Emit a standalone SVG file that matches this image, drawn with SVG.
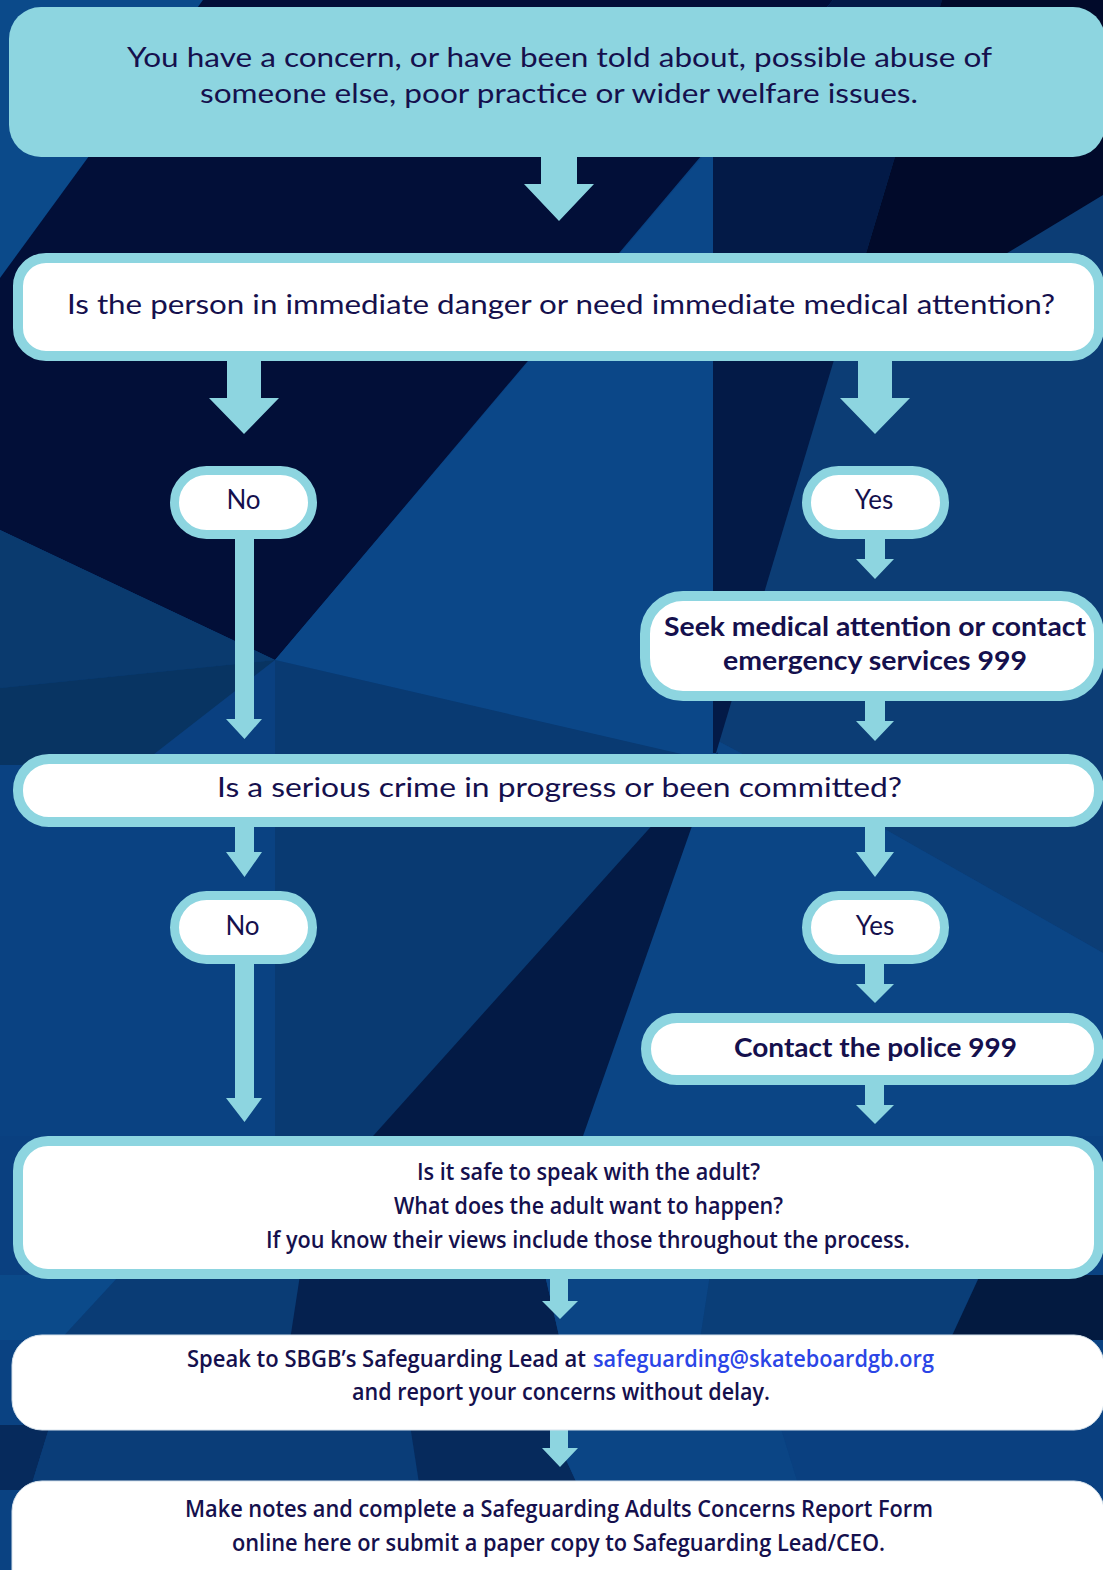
<svg xmlns="http://www.w3.org/2000/svg" width="1103" height="1570" viewBox="0 0 1103 1570">
<style>
.t{font-family:Lato,'Noto Sans','Liberation Sans',sans-serif;font-size:26px;fill:#15104d}
.b{font-weight:700}
.c{font-family:'Open Sans','Liberation Sans',sans-serif;font-weight:600;font-size:24px;fill:#15104d}
.link{fill:#2b45e6}
.box{fill:#ffffff;stroke:#8dd5e0;stroke-width:10}
.pill{fill:#ffffff;stroke:#8dd5e0;stroke-width:9}
.plain{fill:#ffffff;stroke:#d6e2ec;stroke-width:1}
.arr{fill:#8dd5e0}
</style>
<g id="background">
<rect x="0" y="0" width="1103" height="1570" fill="#0a4282"/>
<polygon points="0,0 203,0 0,278" fill="#0b4a8a"/>
<polygon points="203,0 833,0 275,660 0,530 0,278" fill="#020f38"/>
<polygon points="713,144 713,762 275,660" fill="#0b4788"/>
<polygon points="942,0 1103,0 1103,953 881,827 716,740" fill="#0c3d75"/>
<polygon points="716,740 881,827 1103,953 1103,1136 583,1136" fill="#0b4585"/>
<polygon points="833,0 942,0 716,753 713,753 713,144" fill="#031a47"/>
<polygon points="942,0 1103,0 1103,195 880,330 846,320" fill="#010a2a"/>
<polygon points="0,530 275,660 0,688" fill="#0a3a6e"/>
<polygon points="0,688 275,660 275,765 0,765" fill="#083462"/>
<polygon points="275,660 275,765 140,765" fill="#0a4080"/>
<polygon points="275,660 716,762 373,1136 275,1136" fill="#093a72"/>
<polygon points="718,752 583,1136 373,1136" fill="#031a45"/>
<polygon points="0,1136 275,1136 275,1275 0,1275" fill="#0a4080"/>
<polygon points="0,1275 120,1275 60,1340 0,1340" fill="#0b4a8a"/>
<polygon points="120,1275 300,1275 290,1340 60,1340" fill="#0a3c75"/>
<polygon points="300,1275 545,1275 560,1340 290,1340" fill="#05214f"/>
<polygon points="545,1275 710,1275 700,1340 560,1340" fill="#0b4585"/>
<polygon points="710,1275 980,1275 950,1340 700,1340" fill="#0a3e78"/>
<polygon points="980,1275 1103,1275 1103,1340 950,1340" fill="#031a40"/>
<polygon points="0,1425 50,1425 30,1490 0,1490" fill="#062a5c"/>
<polygon points="50,1425 410,1425 420,1490 30,1490" fill="#0a3d78"/>
<polygon points="410,1425 550,1425 580,1490 420,1490" fill="#062a5c"/>
<polygon points="550,1425 780,1425 800,1490 580,1490" fill="#0b4585"/>
<polygon points="780,1425 1103,1425 1103,1490 800,1490" fill="#0a4080"/>
</g>
<g id="connectors">
<polygon class="arr" points="541,150 577,150 577,184 594,184 559,221 524,184 541,184"/>
<polygon class="arr" points="227,359 261,359 261,398 279,398 244,434 209,398 227,398"/>
<polygon class="arr" points="858,359 892,359 892,398 910,398 875,434 840,398 858,398"/>
<polygon class="arr" points="235,537 254,537 254,719 262,719 244.5,739 226,719 235,719"/>
<polygon class="arr" points="865,537 885,537 885,559 894,559 875,579 856,559 865,559"/>
<polygon class="arr" points="865,699 885,699 885,721 894,721 875,741 856,721 865,721"/>
<polygon class="arr" points="235,825 254,825 254,852 262,852 244.5,877 226,852 235,852"/>
<polygon class="arr" points="865,825 885,825 885,852 894,852 875,877 856,852 865,852"/>
<polygon class="arr" points="235,961 254,961 254,1098 262,1098 244.5,1122 226,1098 235,1098"/>
<polygon class="arr" points="865,961 884,961 884,984 894,984 875,1003 856,984 865,984"/>
<polygon class="arr" points="865,1083 884,1083 884,1105 894,1105 875,1124 856,1105 865,1105"/>
<polygon class="arr" points="550,1277 568,1277 568,1301 578,1301 560,1319 542,1301 550,1301"/>
<polygon class="arr" points="550,1428 568,1428 568,1448 578,1448 560,1467 542,1448 550,1448"/>
</g>
<g id="concern">
<rect x="9" y="7" width="1096" height="150" rx="32" fill="#8dd5e0"/>
<text class="t" x="127" y="67" textLength="865" lengthAdjust="spacingAndGlyphs">You have a concern, or have been told about, possible abuse of</text>
<text class="t" x="200" y="103" textLength="718" lengthAdjust="spacingAndGlyphs">someone else, poor practice or wider welfare issues.</text>
</g>
<g id="danger">
<rect class="box" x="18" y="258" width="1081" height="98" rx="28"/>
<text class="t" x="67" y="314" textLength="988" lengthAdjust="spacingAndGlyphs">Is the person in immediate danger or need immediate medical attention?</text>
</g>
<g id="no1">
<rect class="pill" x="174.5" y="470.5" width="138" height="64" rx="32"/>
<text class="t" x="243.5" y="509" text-anchor="middle">No</text>
</g>
<g id="yes1">
<rect class="pill" x="806.5" y="470.5" width="138" height="64" rx="32"/>
<text class="t" x="874" y="509" text-anchor="middle">Yes</text>
</g>
<g id="medical">
<rect class="box" x="645" y="596" width="454" height="100" rx="38"/>
<text class="t b" x="664" y="636" textLength="422" lengthAdjust="spacingAndGlyphs">Seek medical attention or contact</text>
<text class="t b" x="723" y="670" textLength="304" lengthAdjust="spacingAndGlyphs">emergency services 999</text>
</g>
<g id="crime">
<rect class="box" x="18" y="759" width="1081" height="63" rx="31"/>
<text class="t" x="217" y="797" textLength="685" lengthAdjust="spacingAndGlyphs">Is a serious crime in progress or been committed?</text>
</g>
<g id="no2">
<rect class="pill" x="174.5" y="895.5" width="138" height="64" rx="32"/>
<text class="t" x="242.5" y="935" text-anchor="middle">No</text>
</g>
<g id="yes2">
<rect class="pill" x="806.5" y="895.5" width="138" height="64" rx="32"/>
<text class="t" x="875" y="935" text-anchor="middle">Yes</text>
</g>
<g id="police">
<rect class="box" x="646" y="1018" width="453" height="62" rx="31"/>
<text class="t b" x="734" y="1057" textLength="283" lengthAdjust="spacingAndGlyphs">Contact the police 999</text>
</g>
<g id="safe">
<rect class="box" x="18" y="1141" width="1081" height="133" rx="30"/>
<text class="c" x="417" y="1180" textLength="343" lengthAdjust="spacingAndGlyphs">Is it safe to speak with the adult?</text>
<text class="c" x="394" y="1214" textLength="389" lengthAdjust="spacingAndGlyphs">What does the adult want to happen?</text>
<text class="c" x="266" y="1248" textLength="644" lengthAdjust="spacingAndGlyphs">If you know their views include those throughout the process.</text>
</g>
<g id="lead">
<rect class="plain" x="12" y="1335" width="1092" height="95" rx="30"/>
<text class="c" y="1367"><tspan x="187" textLength="399" lengthAdjust="spacingAndGlyphs">Speak to SBGB’s Safeguarding Lead at</tspan><tspan class="link" x="593" textLength="341" lengthAdjust="spacingAndGlyphs">safeguarding@skateboardgb.org</tspan></text>
<text class="c" x="352" y="1400" textLength="418" lengthAdjust="spacingAndGlyphs">and report your concerns without delay.</text>
</g>
<g id="notes">
<rect class="plain" x="12" y="1481" width="1092" height="130" rx="30"/>
<text class="c" x="185" y="1517" textLength="748" lengthAdjust="spacingAndGlyphs">Make notes and complete a Safeguarding Adults Concerns Report Form</text>
<text class="c" x="232" y="1551" textLength="653" lengthAdjust="spacingAndGlyphs">online here or submit a paper copy to Safeguarding Lead/CEO.</text>
</g>
</svg>
